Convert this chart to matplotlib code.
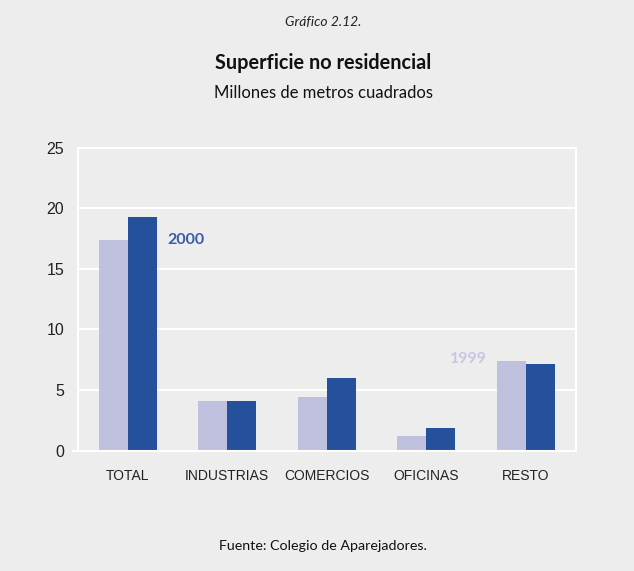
import matplotlib
matplotlib.use("Agg")
import matplotlib.pyplot as plt
import numpy as np
from matplotlib.lines import Line2D

categories = ["TOTAL", "INDUSTRIAS", "COMERCIOS", "OFICINAS", "RESTO"]
values_1999 = [17.35, 4.1, 4.4, 1.2, 7.4]
values_2000 = [19.25, 4.1, 6.0, 1.85, 7.15]
yticks = [0, 5, 10, 15, 20, 25]

BG = "#ededed"
LIGHT = "#bfc0dd"
DARK = "#24509c"
FONT = ["Lato", "DejaVu Sans"]
NARROW = ["Liberation Sans Narrow", "Liberation Sans", "DejaVu Sans"]

fig = plt.figure(figsize=(6.34, 5.71), dpi=100, facecolor=BG)
ax = fig.add_axes([0.123, 0.211, 0.785, 0.530], facecolor=BG)

x = np.arange(len(categories))
w = 0.29
ax.bar(x - w / 2, values_1999, w, color=LIGHT, zorder=3)
ax.bar(x + w / 2, values_2000, w, color=DARK, zorder=3)

ax.set_xlim(-0.5, len(categories) - 0.5)
ax.set_ylim(0, 25)
ax.set_yticks(yticks)
ax.set_yticklabels([str(v) for v in yticks], family=NARROW, fontsize=11.5, color="#222222")
ax.set_xticks(x)
ax.set_xticklabels(categories, family=NARROW, fontsize=10, color="#222222")
ax.tick_params(length=0, pad=10)
ax.tick_params(axis="x", pad=13)
ax.grid(axis="y", color="white", linewidth=1.5, zorder=1)
for s in ax.spines.values():
    s.set_color("white")
    s.set_linewidth(1.5)
    s.set_zorder(4)

# baseline runs a little past the left spine
ax.add_line(Line2D([-0.01, 0], [0, 0], transform=ax.transAxes, color="white",
                   linewidth=1.5, clip_on=False, zorder=4))

ax.text(0.40, 17.35, "2000", color="#3a5ca8", fontsize=11.5, fontweight="bold",
        family=FONT, ha="left", va="center")
ax.text(3.61, 7.6, "1999", color="#c6c7e2", fontsize=11.5, fontweight="bold",
        family=FONT, ha="right", va="center")

fig.text(0.51, 1 - 22 / 571, "Gráfico 2.12.", ha="center", va="center",
         fontsize=10, style="italic", family=FONT, color="#222222")
fig.text(0.51, 1 - 63 / 571, "Superficie no residencial", ha="center", va="center",
         fontsize=14.3, fontweight="bold", family=FONT, color="#111111")
fig.text(0.51, 1 - 93 / 571, "Millones de metros cuadrados", ha="center", va="center",
         fontsize=12, family=FONT, color="#111111")
fig.text(0.51, 1 - 546 / 571, "Fuente: Colegio de Aparejadores.", ha="center", va="center",
         fontsize=10.3, family=FONT, color="#111111")

fig.savefig("out.png", dpi=100, facecolor=BG)
